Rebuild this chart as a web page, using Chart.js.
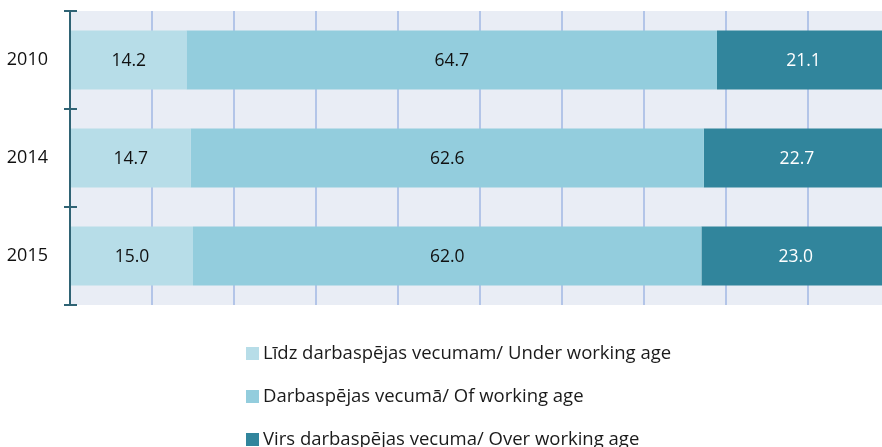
<!DOCTYPE html>
<html><head><meta charset="utf-8">
<script src="https://cdn.jsdelivr.net/npm/chart.js@4/dist/chart.umd.min.js"></script>
<style>
html,body{margin:0;padding:0;background:#fff;overflow:hidden;}
#wrap{position:relative;width:882px;height:447px;overflow:hidden;}
#legend{position:absolute;left:246px;top:336px;font-family:"Open Sans",sans-serif;font-size:18.5px;color:#1a1a1a;}
.li{position:relative;height:43px;line-height:32px;white-space:nowrap;}
.sw{display:inline-block;width:13px;height:13px;margin-right:4px;vertical-align:-1px;}
</style></head>
<body><div id="wrap"><canvas id="c" width="890" height="447"></canvas><div id="legend"></div></div>
<script>
const categories = ["2010", "2014", "2015"];
const seriesNames = ["Līdz darbaspējas vecumam/ Under working age", "Darbaspējas vecumā/ Of working age", "Virs darbaspējas vecuma/ Over working age"];
const underAge = [14.2, 14.7, 15.0];
const workingAge = [64.7, 62.6, 62.0];
const overAge = [21.1, 22.7, 23.0];
const colors = ["#b7dde8", "#93cddd", "#31859c"];
const labelColors = ["#111111", "#111111", "#ffffff"];
const FONT = '"Open Sans", sans-serif';

const bgPlugin = {
  id: 'bg',
  beforeDraw(chart) {
    const {ctx, chartArea: a} = chart;
    ctx.save(); ctx.fillStyle = '#e9edf5';
    ctx.fillRect(a.left, a.top, a.right - a.left, a.bottom - a.top);
    ctx.restore();
  }
};
const axisPlugin = {
  id: 'axisTicks',
  afterDraw(chart) {
    const {ctx, chartArea: a} = chart;
    ctx.save(); ctx.strokeStyle = '#2f6374'; ctx.lineWidth = 2;
    ctx.beginPath(); ctx.moveTo(a.left, a.top); ctx.lineTo(a.left, a.bottom); ctx.stroke();
    const n = categories.length;
    const band = (a.bottom - a.top) / n;
    for (let i = 0; i <= n; i++) {
      const py = Math.round(a.top + i * band);
      ctx.beginPath(); ctx.moveTo(a.left - 6, py); ctx.lineTo(a.left + 7, py); ctx.stroke();
    }
    ctx.restore();
  }
};
const labelPlugin = {
  id: 'vals',
  afterDatasetsDraw(chart) {
    const {ctx} = chart;
    ctx.save(); ctx.font = '17.5px ' + FONT; ctx.textAlign = 'center'; ctx.textBaseline = 'middle';
    chart.data.datasets.forEach((ds, di) => {
      chart.getDatasetMeta(di).data.forEach((el, i) => {
        const p = el.getProps(['x', 'y', 'base'], true);
        ctx.fillStyle = labelColors[di];
        ctx.fillText(ds.data[i].toFixed(1), (p.x + p.base) / 2, p.y + 1);
      });
    });
    ctx.restore();
  }
};

new Chart(document.getElementById('c'), {
  type: 'bar',
  data: {
    labels: categories,
    datasets: [underAge, workingAge, overAge].map((d, i) => ({
      label: seriesNames[i], data: d, backgroundColor: colors[i],
      borderWidth: 0, barPercentage: 0.6, categoryPercentage: 1
    }))
  },
  options: {
    indexAxis: 'y', responsive: false, animation: false,
    layout: {padding: {top: 11, bottom: 142, right: 0, left: 0}},
    plugins: {legend: {display: false}, tooltip: {enabled: false}},
    scales: {
      x: {stacked: true, min: 0, max: 100, ticks: {display: false, stepSize: 10},
          border: {display: false},
          grid: {color: (c) => (c.tick && (c.tick.value === 0 || c.tick.value === 100)) ? 'rgba(0,0,0,0)' : '#b3c5e8', lineWidth: 2, drawTicks: false}},
      y: {stacked: true, border: {display: false},
          grid: {display: false},
          ticks: {color: '#111', font: {family: FONT, size: 18}, padding: 14},
          afterFit(s) { s.width = 70; s.paddingTop = 0; s.paddingBottom = 0; }}
    }
  },
  plugins: [bgPlugin, axisPlugin, labelPlugin]
});

const lg = document.getElementById('legend');
seriesNames.forEach((n, i) => {
  const d = document.createElement('div'); d.className = 'li';
  d.innerHTML = '<span class="sw" style="background:' + colors[i] + '"></span>' + n;
  lg.appendChild(d);
});
</script></body></html>
